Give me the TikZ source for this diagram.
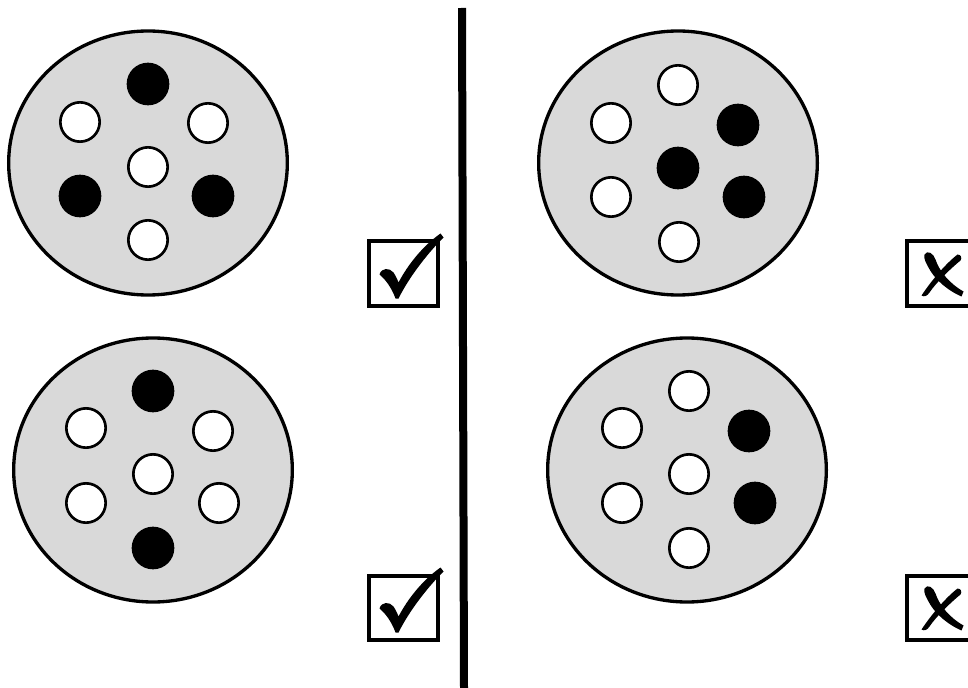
\documentclass[tikz,border=0pt]{standalone}
\usetikzlibrary{shapes.geometric}
\definecolor{discgray}{RGB}{217,217,217}
\tikzset{
  disc/.style={ellipse, draw, line width=2.5pt, fill=discgray,
    minimum width=209pt, minimum height=198pt, inner sep=0pt},
  hole/.style={circle, draw, line width=2pt, fill=white,
    minimum size=29.5pt, inner sep=0pt},
  plug/.style={circle, fill=black, minimum size=32pt, inner sep=0pt},
  markbox/.style={rectangle, draw, line width=3pt,
    minimum width=51.75pt, minimum height=48pt, inner sep=0pt},
  divider/.style={line width=6pt},
  % hand-drawn tick, centred on the box
  tick/.pic={
    \fill (-24,1) .. controls (-22,-6) and (-14,-6) .. (-10,-1)
      .. controls (-8,2) and (-6,6) .. (-5,9)
      .. controls (5,-10) and (20,-28) .. (37,-40)
      -- (40,-36)
      .. controls (22,-18) and (5,5) .. (-5,25)
      -- (-8,25)
      .. controls (-12,14) and (-18,6) .. (-24,1) -- cycle;
  },
  % brush-stroke cross, centred on the box
  cross/.pic={
    \fill (-17,-19) .. controls (-14,-24) and (-8,-20) .. (-6,-14)
      .. controls (-2,-2) and (8,10) .. (22,18)
      -- (20,23)
      .. controls (4,16) and (-8,4) .. (-13,-6)
      .. controls (-15,-10) and (-18,-14) .. (-17,-19) -- cycle;
    \fill (16,-19) .. controls (19,-19) and (21,-16) .. (19,-13)
      .. controls (8,-4) and (-6,10) .. (-12,19)
      .. controls (-14,22) and (-17,24) .. (-20,22)
      .. controls (-12,10) and (2,-8) .. (16,-19) -- cycle;
  },
}
\begin{document}
\begin{tikzpicture}[x=0.75pt, y=-0.75pt]
\useasboundingbox (0,0) rectangle (968,688);

% divider between the two columns
\coordinate (divtop) at (462,8);
\coordinate (divbot) at (464,688);
\draw[divider] (divtop) -- (divbot);

% top left disc
\node[disc] (d1) at (148,163) {};
\node[plug] (d1n)  at (148,84)  {};
\node[hole] (d1nw) at (80,122)  {};
\node[hole] (d1ne) at (208,123) {};
\node[hole] (d1c)  at (148,167) {};
\node[plug] (d1sw) at (80,196)  {};
\node[plug] (d1se) at (213,196) {};
\node[hole] (d1s)  at (148,240) {};

% bottom left disc
\node[disc] (d2) at (153,470) {};
\node[plug] (d2n)  at (153,391) {};
\node[hole] (d2nw) at (86,428)  {};
\node[hole] (d2ne) at (213,431) {};
\node[hole] (d2c)  at (153,474) {};
\node[hole] (d2sw) at (86,503)  {};
\node[hole] (d2se) at (219,503) {};
\node[plug] (d2s)  at (153,548) {};

% top right disc
\node[disc] (d3) at (678,163) {};
\node[hole] (d3n)  at (678,85)  {};
\node[hole] (d3nw) at (611,123) {};
\node[plug] (d3ne) at (738,125) {};
\node[plug] (d3c)  at (678,168) {};
\node[hole] (d3sw) at (611,197) {};
\node[plug] (d3se) at (744,197) {};
\node[hole] (d3s)  at (679,242) {};

% bottom right disc
\node[disc] (d4) at (687,470) {};
\node[hole] (d4n)  at (689,391) {};
\node[hole] (d4nw) at (622,428) {};
\node[plug] (d4ne) at (749,431) {};
\node[hole] (d4c)  at (689,474) {};
\node[hole] (d4sw) at (622,503) {};
\node[plug] (d4se) at (755,503) {};
\node[hole] (d4s)  at (689,548) {};

% verdict boxes
\node[markbox] (ok1) at (403.5,273.5) {};
\node[markbox] (ok2) at (403.5,607.5) {};
\node[markbox] (no1) at (941.5,273.5) {};
\node[markbox] (no2) at (941.5,607.5) {};
\pic at (ok1) {tick};
\pic at (ok2) {tick};
\pic at (no1) {cross};
\pic at (no2) {cross};
\end{tikzpicture}
\end{document}
